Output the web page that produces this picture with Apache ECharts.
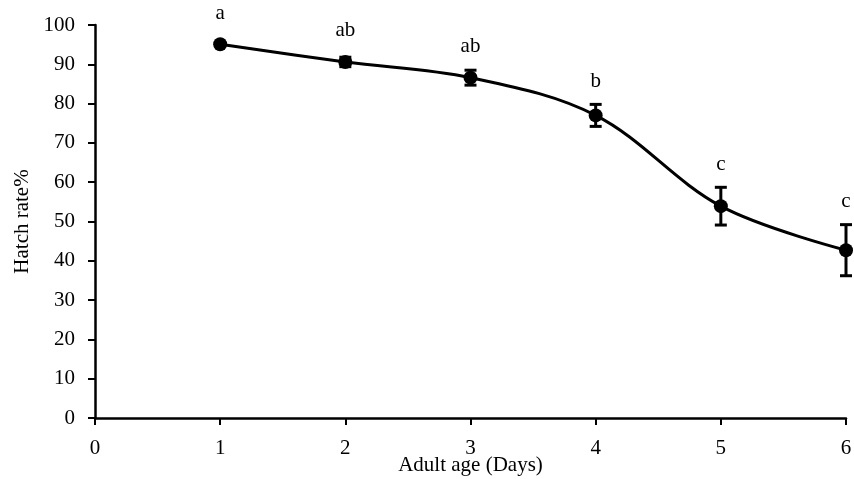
<!DOCTYPE html>
<html><head><meta charset="utf-8">
<script src="https://cdn.jsdelivr.net/npm/echarts@6/dist/echarts.min.js"></script>
<style>html,body{margin:0;padding:0;background:#fff}#c{width:854px;height:479px}</style>
</head><body><div id="c"></div>
<script>
const days = [1, 2, 3, 4, 5, 6];
const hatchRate = [95.1, 90.6, 86.6, 77.0, 53.9, 42.7];
const errors = [0.4, 1.2, 1.9, 2.8, 4.8, 6.5];
const letters = ['a', 'ab', 'ab', 'b', 'c', 'c'];
const xTicks = [0, 1, 2, 3, 4, 5, 6];
const yTicks = [0, 10, 20, 30, 40, 50, 60, 70, 80, 90, 100];

const FONT = '"Liberation Serif","Times New Roman",serif';
const chart = echarts.init(document.getElementById('c'));
const pts = days.map((d, i) => [d, hatchRate[i]]);
const errData = days.map((d, i) => [d, hatchRate[i], errors[i], letters[i]]);

chart.setOption({
  animation: false,
  backgroundColor: '#fff',
  grid: { left: 95, right: 8, top: 25, bottom: 61, containLabel: false, outerBoundsMode: 'none' },
  xAxis: {
    type: 'value', min: xTicks[0], max: xTicks[xTicks.length - 1], interval: 1,
    name: 'Adult age (Days)', nameLocation: 'middle', nameGap: 37, nameMoveOverlap: false,
    nameTextStyle: { fontFamily: FONT, fontSize: 21, color: '#000' },
    axisLine: { lineStyle: { color: '#000', width: 2.5 } },
    axisTick: { show: true, length: 7, lineStyle: { color: '#000', width: 2 } },
    axisLabel: { fontFamily: FONT, fontSize: 21, color: '#000', margin: 20 },
    splitLine: { show: false }
  },
  yAxis: {
    type: 'value', min: yTicks[0], max: yTicks[yTicks.length - 1], interval: 10,
    name: 'Hatch rate%', nameLocation: 'middle', nameGap: 62, nameMoveOverlap: false,
    nameTextStyle: { fontFamily: FONT, fontSize: 21, color: '#000' },
    axisLine: { show: true, lineStyle: { color: '#000', width: 2.5 } },
    axisTick: { show: true, length: 7, lineStyle: { color: '#000', width: 2 } },
    axisLabel: { fontFamily: FONT, fontSize: 21, color: '#000', margin: 20 },
    splitLine: { show: false }
  },
  series: [
    {
      type: 'line', data: pts, smooth: 0.35,
      symbol: 'circle', symbolSize: 14,
      lineStyle: { color: '#000', width: 3 },
      itemStyle: { color: '#000' },
      z: 3
    },
    {
      type: 'custom', data: errData, z: 4,
      renderItem: function (params, api) {
        const x = api.value(0), y = api.value(1), e = api.value(2);
        const top = api.coord([x, y + e]);
        const bot = api.coord([x, y - e]);
        const w = 6;
        const st = { stroke: '#000', lineWidth: 3 };
        const children = [];
        if (e >= 1) {
          children.push({ type: 'line', shape: { x1: top[0], y1: top[1], x2: bot[0], y2: bot[1] }, style: st });
          children.push({ type: 'line', shape: { x1: top[0] - w, y1: top[1], x2: top[0] + w, y2: top[1] }, style: st });
          children.push({ type: 'line', shape: { x1: bot[0] - w, y1: bot[1], x2: bot[0] + w, y2: bot[1] }, style: st });
        }
        const ly = Math.min(top[1], api.coord([x, y])[1] - 8) - 23;
        children.push({
          type: 'text',
          style: { x: top[0], y: ly, text: api.value(3), textAlign: 'center', textVerticalAlign: 'middle',
                   font: '21px ' + FONT, fill: '#000' }
        });
        return { type: 'group', children: children };
      }
    }
  ]
});
</script></body></html>
